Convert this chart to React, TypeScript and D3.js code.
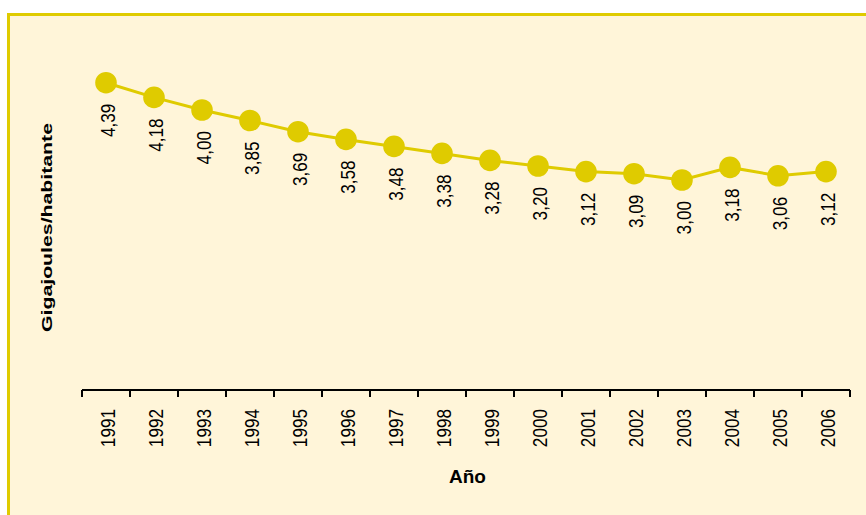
import React, { useEffect, useRef } from 'react';
import * as d3 from 'd3';

const years = ['1991', '1992', '1993', '1994', '1995', '1996', '1997', '1998', '1999', '2000', '2001', '2002', '2003', '2004', '2005', '2006'];
const values = [4.39, 4.18, 4.0, 3.85, 3.69, 3.58, 3.48, 3.38, 3.28, 3.2, 3.12, 3.09, 3.0, 3.18, 3.06, 3.12];

const yAxisTitle = 'Gigajoules/habitante';
const xAxisTitle = 'Año';

const width = 866;
const height = 515;
const lineColor = '#dfcb00';
const font = 'Liberation Sans, Arial, sans-serif';

const App: React.FC = () => {
  const svgRef = useRef<SVGSVGElement>(null);

  useEffect(() => {
    const svg = d3.select(svgRef.current);
    svg.selectAll('*').remove();

    const margin = { top: 40, right: 16, bottom: 125, left: 82 };
    const innerHeight = height - margin.top - margin.bottom;
    const plotWidth = 768;

    // Frame
    svg.append('rect')
      .attr('x', 8.5)
      .attr('y', 14.5)
      .attr('width', width + 20)
      .attr('height', height + 20)
      .attr('fill', '#fff5d9')
      .attr('stroke', lineColor)
      .attr('stroke-width', 3);

    const data = years.map((y, i) => ({ year: y, value: values[i] }));

    const x = d3.scaleBand<string>()
      .domain(years)
      .range([0, plotWidth]);

    const y = d3.scaleLinear()
      .domain([0, 5])
      .range([innerHeight, 0]);

    const g = svg.append('g')
      .attr('transform', `translate(${margin.left},${margin.top})`);

    const cx = (d: string) => (x(d) || 0) + x.bandwidth() / 2;

    // X axis: line with tick marks on band boundaries
    const axisG = g.append('g').attr('transform', `translate(0,${innerHeight})`);
    axisG.append('line')
      .attr('x1', 0)
      .attr('x2', plotWidth)
      .attr('stroke', '#000')
      .attr('stroke-width', 2);
    const bounds = years.map(d => x(d) || 0).concat([plotWidth]);
    axisG.selectAll('.tick-mark')
      .data(bounds)
      .enter()
      .append('line')
      .attr('x1', d => d)
      .attr('x2', d => d)
      .attr('y1', 0)
      .attr('y2', 7)
      .attr('stroke', '#000')
      .attr('stroke-width', 2);
    axisG.selectAll('.year-label')
      .data(years)
      .enter()
      .append('text')
      .attr('transform', d => `translate(${cx(d) + 9},19) rotate(-90) scale(0.88,1)`)
      .attr('text-anchor', 'end')
      .attr('font-family', font)
      .attr('font-size', '19.5px')
      .attr('fill', '#000')
      .text(d => d);

    // Line
    const line = d3.line<{ year: string; value: number }>()
      .x(d => cx(d.year))
      .y(d => y(d.value));

    g.append('path')
      .datum(data)
      .attr('d', line)
      .attr('fill', 'none')
      .attr('stroke', lineColor)
      .attr('stroke-width', 3);

    g.selectAll('.dot')
      .data(data)
      .enter()
      .append('circle')
      .attr('cx', d => cx(d.year))
      .attr('cy', d => y(d.value))
      .attr('r', 10.8)
      .attr('fill', lineColor);

    g.selectAll('.value-label')
      .data(data)
      .enter()
      .append('text')
      .attr('transform', d => `translate(${cx(d.year) + 9},${y(d.value) + 21}) rotate(-90) scale(0.88,1)`)
      .attr('text-anchor', 'end')
      .attr('font-family', font)
      .attr('font-size', '19.5px')
      .attr('fill', '#000')
      .text(d => d3.format('.2f')(d.value).replace('.', ','));

    // Axis titles
    svg.append('text')
      .attr('transform', `translate(52,227.5) rotate(-90)`)
      .attr('text-anchor', 'middle')
      .attr('font-family', font)
      .attr('font-size', '15px')
      .attr('font-weight', 'bold')
      .attr('textLength', 209)
      .attr('lengthAdjust', 'spacingAndGlyphs')
      .attr('fill', '#000')
      .text(yAxisTitle);

    svg.append('text')
      .attr('x', 467.5)
      .attr('y', 482.5)
      .attr('text-anchor', 'middle')
      .attr('font-family', font)
      .attr('font-size', '19px')
      .attr('font-weight', 'bold')
      .attr('fill', '#000')
      .text(xAxisTitle);
  }, []);

  return (
    <svg
      ref={svgRef}
      width={width}
      height={height}
      style={{ position: 'fixed', left: 0, top: 0, display: 'block', background: '#fff' }}
    />
  );
};

export default App;
